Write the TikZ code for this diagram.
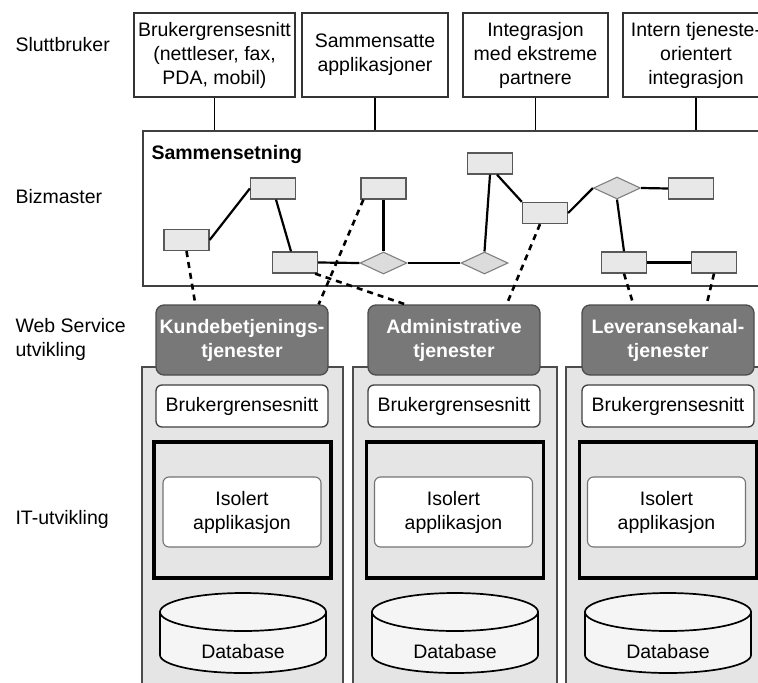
\documentclass[tikz,border=0pt]{standalone}
\usepackage{fontspec}
\setmainfont{Liberation Sans}
\usetikzlibrary{shapes.geometric}

\definecolor{colgray}{gray}{0.9}
\definecolor{hdgray}{gray}{0.47}
\definecolor{ndgray}{gray}{0.91}

% database drum: centre x, node name
\newcommand{\dbdrum}[2]{%
  \filldraw[dbbody] (#1-83,612) -- (#1-83,655)
    arc[start angle=180, end angle=360, x radius=83pt, y radius=18pt]
    -- (#1+83,612) -- cycle;
  \draw[dbbody] (#1,612) ellipse[x radius=83pt, y radius=19pt];
  \node (#2) at (#1,652) {Database};
}

\begin{document}
\begin{tikzpicture}[
  x=1pt, y=-1pt,
  every node/.style={font=\fontsize{19.5}{24}\selectfont},
  topbox/.style={draw=black!80, line width=1.4pt, fill=white, minimum height=84pt, align=center, inner sep=2pt},
  task/.style={rectangle, draw=black!65, line width=1.3pt, fill=ndgray, minimum width=45pt, minimum height=21pt, inner sep=0pt},
  gate/.style={diamond, draw=black!50, line width=1.1pt, fill=ndgray!95!black, minimum width=47pt, minimum height=22pt, inner sep=0pt},
  link/.style={line width=2.2pt},
  map/.style={line width=2.6pt, dash pattern=on 6pt off 5pt},
  svc/.style={rounded corners=8pt, draw=black!70, line width=1.3pt, fill=hdgray, text=white, font=\fontsize{19.5}{24}\selectfont\bfseries, minimum width=172pt, minimum height=70pt, align=center, inner sep=1pt},
  ui/.style={rounded corners=6pt, draw=black!75, line width=1.3pt, fill=white, minimum width=172pt, minimum height=42pt, inner sep=1pt},
  app/.style={draw=black, line width=3.8pt, fill=colgray, minimum width=177pt, minimum height=136pt},
  iso/.style={rounded corners=6pt, draw=black!55, line width=1.1pt, fill=white, minimum width=158pt, minimum height=70pt, align=center},
  col/.style={draw=black!70, line width=1.1pt, fill=colgray},
  dbbody/.style={draw=black, line width=1.7pt, fill=black!4},
  lane/.style={anchor=west, align=left}
]
\clip (0,0) rectangle (758,683);

% Lane labels
\node[lane] (lsb) at (12,45) {Sluttbruker};
\node[lane] (lbm) at (12,197) {Bizmaster};
\node[lane] (lws) at (12,339) {Web Service\\utvikling};
\node[lane] (lit) at (12,519) {IT-utvikling};

% End users
\node[topbox, minimum width=161pt] (s1) at (214.5,55) {Brukergrensesnitt\\(nettleser, fax,\\PDA, mobil)};
\node[topbox, minimum width=146pt] (s2) at (375,55) {Sammensatte\\applikasjoner};
\node[topbox, minimum width=145pt] (s3) at (535.5,55) {Integrasjon\\med ekstreme\\partnere};
\node[topbox, minimum width=146pt] (s4) at (696,55) {Intern tjeneste-\\orientert\\integrasjon};

% Composition
\node[draw=black!75, line width=1.4pt, fill=white, minimum width=627pt, minimum height=155pt, inner sep=0pt] (biz) at (456.5,208.5) {};
\node[anchor=west, font=\fontsize{19.5}{24}\selectfont\bfseries] (comp) at (148,154) {Sammensetning};

\foreach \s in {s1,s2,s3,s4}
  \draw[line width=1.8pt] (\s.south) -- (\s.south |- biz.north);

\node[task] (r1) at (186.5,240) {};
\node[task] (r2) at (273,188.5) {};
\node[task] (r3) at (295,262.5) {};
\node[task] (r4) at (383.5,188.5) {};
\node[gate] (d1) at (383.5,263) {};
\node[gate] (d2) at (484.5,263) {};
\node[task] (r5) at (490,163.5) {};
\node[task] (r6) at (545,213) {};
\node[gate] (d3) at (617,188) {};
\node[task] (r7) at (691,188.5) {};
\node[task] (r8) at (624,262.5) {};
\node[task] (r9) at (714,262.5) {};

\draw[link] (r1.east) -- (r2.west);
\draw[link] ([xshift=3pt]r2.south) -- ([xshift=-4pt]r3.north);
\draw[link] (r3.east) -- (d1.west);
\draw[link] (d1.east) -- (d2.west);
\draw[link] (r4.south) -- (d1.north);
\draw[link] (d2.north) -- (r5.south);
\draw[link] ([xshift=7pt]r5.south) -- (r6.north west);
\draw[link] (r6.east) -- (d3.west);
\draw[link] (d3.east) -- (r7.west);
\draw[link] (d3.south) -- (r8.north);
\draw[link] (r8.east) -- (r9.west);

% Columns
\draw[col] (142,367) rectangle (343,700);
\draw[col] (353,367) rectangle (557,700);
\draw[col] (566,367) rectangle (775,700);

% Web services
\node[svc] (h1) at (242,340) {Kundebetjenings-\\tjenester};
\node[svc] (h2) at (454,340) {Administrative\\tjenester};
\node[svc] (h3) at (668,340) {Leveransekanal-\\tjenester};

\draw[map] (r1.south) -- ([xshift=40pt]h1.north west);
\draw[map] ([xshift=3pt]r4.south west) -- ([xshift=-10pt]h1.north east);
\draw[map] ([xshift=-3pt]r3.south east) -- ([xshift=38pt]h2.north west);
\draw[map] ([xshift=-5pt]r6.south) -- ([xshift=-34pt]h2.north east);
\draw[map] (r8.south) -- ([xshift=52pt]h3.north west);
\draw[map] (r9.south) -- ([xshift=-48pt]h3.north east);

% IT development
\node[ui] (b1) at (242,406) {Brukergrensesnitt};
\node[ui] (b2) at (454,406) {Brukergrensesnitt};
\node[ui] (b3) at (668,406) {Brukergrensesnitt};

\node[app] (a1) at (242.5,510) {};
\node[app] (a2) at (455,510) {};
\node[app] (a3) at (668,510) {};

\node[iso] (i1) at (242,512) {Isolert\\applikasjon};
\node[iso] (i2) at (453.5,512) {Isolert\\applikasjon};
\node[iso] (i3) at (666.5,512) {Isolert\\applikasjon};

\dbdrum{243}{db1}
\dbdrum{455}{db2}
\dbdrum{668}{db3}
\end{tikzpicture}
\end{document}
